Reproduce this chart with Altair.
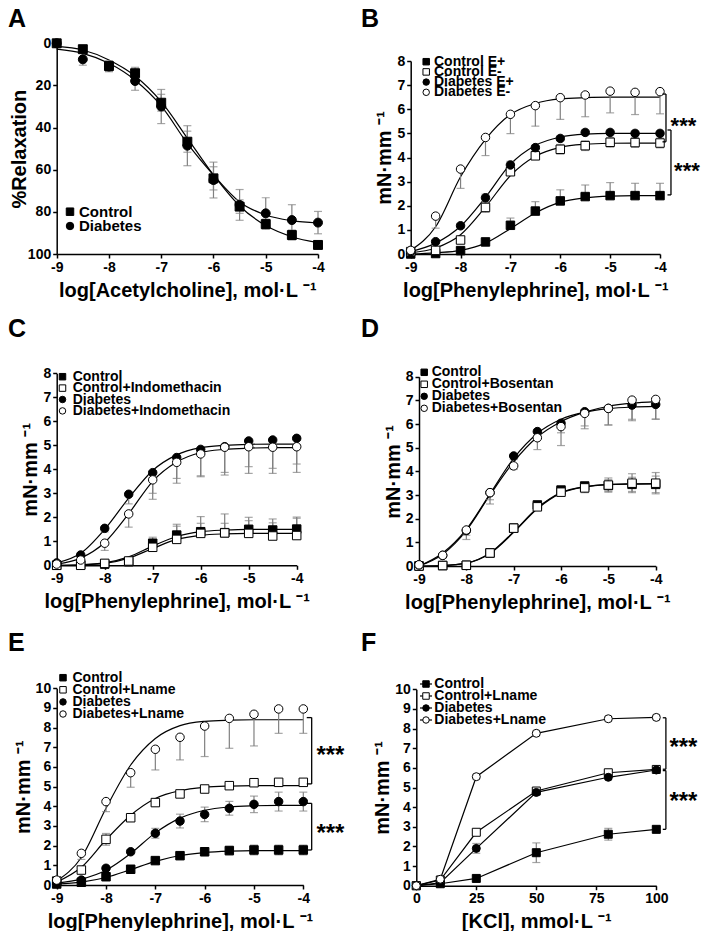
import altair as alt
import pandas as pd

FONT = "Liberation Sans"
W, H = 693, 923
ERR = "#808080"

LOGX = [-9, -8.5, -8, -7.5, -7, -6.5, -6, -5.5, -5, -4.5, -4]
KCL = [0, 10, 25, 50, 80, 100]

# ---------------- Panel A ----------------
A_names = ["Control", "Diabetes"]
A_ctrl = [0, 2.8, 10.8, 14.2, 28.2, 46.7, 64.1, 77.5, 85.8, 91.0, 95.7]
A_ctrl_err = [0, 0.6, 2.5, 2.8, 4.0, 5.0, 5.5, 3.2, 2.4, 2.4, 1.8]
A_diab = [0, 7.6, 11.0, 17.9, 30.0, 48.6, 64.9, 76.7, 80.7, 83.9, 85.1]
A_diab_err = [0, 2.8, 2.5, 4.4, 8.1, 9.5, 8.5, 7.3, 7.4, 7.3, 5.3]
A_ctrl_fit = [1.5, 3.2, 7.9, 15.5, 27.7, 45.0, 62.5, 77.2, 86.5, 91.8, 94.6]
A_diab_fit = [2.8, 4.8, 9.5, 17.5, 29.7, 47.5, 62.5, 75.3, 81.5, 84.2, 85.3]

# ---------------- Panel B ----------------
B_names = ["Control E+", "Control E-", "Diabetes E+", "Diabetes E-"]
B_ctrlp = [0.0, 0.02, 0.14, 0.5, 1.19, 1.78, 2.2, 2.38, 2.42, 2.42, 2.42]
B_ctrlp_err = [0, 0, 0.05, 0.1, 0.3, 0.39, 0.46, 0.48, 0.54, 0.51, 0.51]
B_ctrlm = [0.1, 0.15, 0.58, 1.93, 3.41, 4.07, 4.34, 4.49, 4.63, 4.62, 4.6]
B_ctrlm_err = [0, 0.05, 0.1, 0.2, 0.15, 0.15, 0.2, 0.2, 0.2, 0.2, 0.2]
B_diabp = [0.1, 0.51, 1.17, 2.33, 3.69, 4.41, 4.79, 5.04, 5.04, 5.0, 5.0]
B_diabp_err = [0, 0.05, 0.1, 0.15, 0.15, 0.1, 0.1, 0.1, 0.1, 0.1, 0.1]
B_diabm = [0.15, 1.57, 3.52, 4.83, 5.79, 6.15, 6.48, 6.59, 6.75, 6.7, 6.73]
B_diabm_err = [0, 0.5, 0.8, 0.75, 0.8, 0.85, 0.9, 0.9, 0.9, 0.92, 0.92]
B_fit_ctrlp = [0.0, 0.05, 0.15, 0.45, 1.05, 1.7, 2.15, 2.33, 2.4, 2.42, 2.42]
B_fit_ctrlm = [0.05, 0.25, 0.8, 1.95, 3.25, 4.05, 4.42, 4.55, 4.59, 4.6, 4.6]
B_fit_diabp = [0.1, 0.45, 1.15, 2.35, 3.72, 4.5, 4.85, 4.97, 5.0, 5.0, 5.0]
B_fit_diabm = [0.15, 1.13, 3.2, 4.75, 5.78, 6.24, 6.43, 6.48, 6.5, 6.5, 6.5]
B_brackets = [[-3.95, -3.88, 6.63, 4.65], [-3.85, -3.78, 5.14, 2.45]]
B_stars = [[-3.53, 5.48], [-3.46, 3.62]]

# ---------------- Panel C ----------------
C_names = ["Control", "Control+Indomethacin", "Diabetes", "Diabetes+Indomethacin"]
C_ctrl = [0.0, 0.02, 0.05, 0.15, 0.92, 1.26, 1.4, 1.36, 1.5, 1.47, 1.51]
C_ctrl_err = [0, 0, 0, 0.05, 0.25, 0.45, 0.63, 0.78, 0.5, 0.46, 0.5]
C_ctrli = [0.0, 0.0, 0.08, 0.18, 0.75, 1.08, 1.33, 1.35, 1.33, 1.22, 1.24]
C_ctrli_err = [0, 0, 0, 0.05, 0.3, 0.55, 0.42, 0.4, 0.53, 0.55, 0.72]
C_diab = [0.1, 0.43, 1.54, 2.96, 3.86, 4.49, 4.83, 4.94, 5.18, 5.22, 5.29]
C_diab_err = [0, 0.1, 0.15, 0.4, 0.86, 1.07, 1.1, 1.18, 1.35, 1.39, 1.42]
C_diabi = [0.05, 0.22, 0.92, 2.14, 3.56, 4.29, 4.64, 4.92, 4.94, 4.92, 4.94]
C_diabi_err = [0, 0.1, 0.3, 0.55, 0.81, 0.67, 0.95, 1.05, 0.83, 0.88, 0.72]
C_fit_ctrl = [0, 0.02, 0.1, 0.35, 0.8, 1.2, 1.4, 1.47, 1.5, 1.5, 1.5]
C_fit_ctrli = [0, 0.02, 0.08, 0.3, 0.7, 1.08, 1.25, 1.31, 1.33, 1.33, 1.33]
C_fit_diab = [0.1, 0.5, 1.5, 2.8, 3.95, 4.6, 4.9, 5.0, 5.04, 5.05, 5.05]
C_fit_diabi = [0.05, 0.3, 0.95, 2.15, 3.5, 4.3, 4.7, 4.83, 4.88, 4.9, 4.9]

# ---------------- Panel D ----------------
D_names = ["Control", "Control+Bosentan", "Diabetes", "Diabetes+Bosentan"]
D_ctrl = [0, 0.02, 0.03, 0.55, 1.6, 2.58, 3.21, 3.38, 3.4, 3.45, 3.45]
D_ctrl_err = [0, 0, 0, 0.05, 0.1, 0.1, 0.1, 0.15, 0.25, 0.3, 0.35]
D_ctrlb = [0, 0.02, 0.03, 0.55, 1.6, 2.5, 3.12, 3.3, 3.42, 3.5, 3.5]
D_ctrlb_err = [0, 0, 0, 0.05, 0.1, 0.1, 0.1, 0.2, 0.3, 0.4, 0.45]
D_diab = [0.05, 0.45, 1.5, 3.1, 4.65, 5.68, 6.03, 6.52, 6.66, 6.8, 6.83]
D_diab_err = [0, 0.1, 0.2, 0.3, 0.15, 0.2, 0.4, 0.6, 0.7, 0.6, 0.62]
D_diabb = [0.05, 0.45, 1.52, 3.1, 4.23, 5.42, 5.89, 6.45, 6.66, 7.01, 7.04]
D_diabb_err = [0, 0.1, 0.4, 0.48, 0.15, 0.5, 0.8, 0.65, 0.7, 0.87, 0.84]
D_fit_ctrl = [0, 0.02, 0.12, 0.55, 1.45, 2.45, 3.1, 3.35, 3.44, 3.46, 3.47]
D_fit_ctrlb = [0, 0.02, 0.12, 0.53, 1.42, 2.42, 3.08, 3.34, 3.44, 3.47, 3.48]
D_fit_diab = [0.0, 0.55, 1.55, 3.05, 4.55, 5.6, 6.2, 6.5, 6.65, 6.72, 6.75]
D_fit_diabb = [0.0, 0.5, 1.5, 3.0, 4.4, 5.45, 6.1, 6.5, 6.75, 6.88, 6.95]

# ---------------- Panel E ----------------
E_names = ["Control", "Control+Lname", "Diabetes", "Diabetes+Lname"]
E_ctrl = [0.05, 0.14, 0.42, 0.8, 1.24, 1.49, 1.69, 1.75, 1.78, 1.78, 1.78]
E_ctrl_err = [0, 0.05, 0.08, 0.1, 0.12, 0.15, 0.2, 0.22, 0.25, 0.25, 0.25]
E_ctrll = [0.2, 0.76, 2.32, 3.42, 4.19, 4.63, 4.88, 5.05, 5.2, 5.22, 5.22]
E_ctrll_err = [0.05, 0.1, 0.3, 0.15, 0.15, 0.12, 0.12, 0.1, 0.1, 0.1, 0.1]
E_diab = [0.1, 0.25, 0.85, 1.69, 2.63, 3.25, 3.59, 3.9, 4.1, 4.24, 4.24]
E_diab_err = [0, 0.05, 0.1, 0.1, 0.25, 0.35, 0.37, 0.35, 0.42, 0.48, 0.48]
E_diabl = [0.25, 1.61, 4.24, 5.71, 6.9, 7.51, 8.08, 8.47, 8.68, 8.95, 8.95]
E_diabl_err = [0, 0.31, 0.51, 0.74, 1.05, 1.15, 1.55, 1.52, 1.61, 1.24, 1.24]
E_fit_ctrl = [0.05, 0.15, 0.38, 0.78, 1.2, 1.5, 1.65, 1.72, 1.75, 1.75, 1.75]
E_fit_ctrll = [0.15, 0.9, 2.3, 3.55, 4.4, 4.8, 4.97, 5.03, 5.05, 5.05, 5.05]
E_fit_diab = [0.1, 0.3, 0.75, 1.6, 2.65, 3.4, 3.8, 3.97, 4.03, 4.05, 4.05]
E_fit_diabl = [0.2, 1.4, 3.9, 6.1, 7.45, 8.1, 8.32, 8.38, 8.4, 8.4, 8.4]
E_brackets = [[-3.93, -3.83, 8.51, 5.14], [-3.93, -3.83, 4.15, 1.78]]
E_stars = [[-3.45, 6.78], [-3.45, 2.8]]

# ---------------- Panel F ----------------
F_names = ["Control", "Control+Lname", "Diabetes", "Diabetes+Lname"]
F_ctrl = [0, 0.1, 0.37, 1.68, 2.62, 2.87]
F_ctrl_err = [0, 0.05, 0.15, 0.5, 0.3, 0.15]
F_ctrll = [0, 0.29, 2.72, 4.82, 5.75, 5.92]
F_ctrll_err = [0, 0.05, 0.1, 0.1, 0.1, 0.1]
F_diab = [0, 0.15, 1.9, 4.75, 5.52, 5.89]
F_diab_err = [0, 0.05, 0.25, 0.1, 0.1, 0.1]
F_diabl = [0, 0.33, 5.55, 7.76, 8.5, 8.57]
F_diabl_err = [0, 0, 0.1, 0.1, 0.1, 0.1]
F_brackets = [[102.7, 104.0, 8.55, 5.93], [102.7, 104.0, 5.86, 2.87]]
F_stars = [[111.3, 7.21], [111.3, 4.48]]

SH4 = ["square", "square", "circle", "circle"]
FL4 = ["black", "white", "black", "white"]
LOG_TITLE_PE = "log[Phenylephrine], mol·L ⁻¹"
MNMM = "mN·mm ⁻¹"


def long_df(xs, names, lists):
    rows = []
    for n, ys in zip(names, lists):
        for x, y in zip(xs, ys):
            rows.append({"x": x, "y": y, "s": n})
    return pd.DataFrame(rows)


def err_dfs(xs, names, vals, errs, dirs):
    bars, caps = [], []
    for n, ys, es, d in zip(names, vals, errs, dirs):
        for x, y, e in zip(xs, ys, es):
            if e <= 0:
                continue
            lo = y - e if d in ("both", "down") else y
            hi = y + e if d in ("both", "up") else y
            bars.append({"x": x, "lo": lo, "hi": hi})
            if d in ("both", "down"):
                caps.append({"x": x, "y": lo})
            if d in ("both", "up"):
                caps.append({"x": x, "y": hi})
    return pd.DataFrame(bars), pd.DataFrame(caps)


def axis_style():
    return dict(grid=False, domainColor="black", domainWidth=1.5, tickColor="black",
                tickWidth=1.5, tickSize=4, labelFont=FONT, labelFontSize=14,
                labelFontWeight="bold", labelColor="black", labelPadding=2,
                titleFont=FONT, titleFontSize=20, titleFontWeight="bold",
                titleColor="black", labelExpr="'' + datum.value",
                labelOverlap=False, labelFlush=False)


def legend_layers(names, shapes, fills, leg):
    out = []
    for i, (n, sh, fl) in enumerate(zip(names, shapes, fills)):
        yy = leg["y0"] + i * leg["dy"]
        one = pd.DataFrame({"label": [n]})
        if leg.get("stub"):
            out.append(alt.Chart(one).mark_rule(color="black", strokeWidth=1.2).encode(
                x=alt.value(leg["sx"] - leg["stub"]), x2=alt.value(leg["sx"] + leg["stub"]),
                y=alt.value(yy)))
        out.append(alt.Chart(one).mark_point(shape=sh, filled=True, fill=fl, stroke="black",
                                             strokeWidth=1, opacity=1, size=leg["ss"]).encode(
            x=alt.value(leg["sx"]), y=alt.value(yy)))
        out.append(alt.Chart(one).mark_text(font=FONT, fontSize=leg["fs"], fontWeight="bold",
                                            color="black", align="left",
                                            baseline="middle").encode(
            text="label:N", x=alt.value(leg["tx"]), y=alt.value(yy)))
    return out


def panel(letter, lxy, xs, names, shapes, fills, vals, errs, dirs, fit_x, fits,
          xdom, xrng, xvals, xtitle, xaxis_y, ydom, yrng, yvals, ytitle, yaxis_x,
          leg, brackets=None, stars=None, star_fs=24, ytpad=2, xtpad=6,
          psize=72, interp="monotone"):
    xscale = alt.Scale(domain=xdom, range=xrng, nice=False, zero=False)
    yscale = alt.Scale(domain=ydom, range=yrng, nice=False, zero=False)
    xaxis = alt.Axis(orient="bottom", offset=xaxis_y - H, values=xvals, title=xtitle,
                     titlePadding=xtpad, **axis_style())
    yaxis = alt.Axis(orient="left", offset=-yaxis_x, values=yvals, title=ytitle,
                     titlePadding=ytpad, **axis_style())

    def X(f):
        return alt.X(f, type="quantitative", scale=xscale, axis=xaxis)

    def Y(f):
        return alt.Y(f, type="quantitative", scale=yscale, axis=yaxis)

    layers = []
    fit_df = long_df(fit_x, names, fits)
    layers.append(alt.Chart(fit_df).mark_line(color="black", strokeWidth=1.2,
                                              interpolate=interp).encode(
        x=X("x"), y=Y("y"), detail="s:N"))
    bars, caps = err_dfs(xs, names, vals, errs, dirs)
    layers.append(alt.Chart(bars).mark_rule(color=ERR, strokeWidth=1.2).encode(
        x=X("x"), y=Y("lo"), y2=alt.Y2("hi")))
    layers.append(alt.Chart(caps).mark_tick(color=ERR, orient="horizontal", size=8,
                                            thickness=1.2).encode(x=X("x"), y=Y("y")))
    pts = long_df(xs, names, vals)
    layers.append(alt.Chart(pts).mark_point(filled=True, opacity=1, stroke="black",
                                            strokeWidth=1, size=psize).encode(
        x=X("x"), y=Y("y"),
        shape=alt.Shape("s:N", scale=alt.Scale(domain=names, range=shapes), legend=None),
        fill=alt.Fill("s:N", scale=alt.Scale(domain=names, range=fills), legend=None)))
    if brackets:
        vrows, hrows = [], []
        for xl, xr, yt, yb in brackets:
            vrows.append({"bx": xr, "y1": yt, "y2": yb})
            hrows.append({"x1": xl, "x2": xr, "y": yt})
            hrows.append({"x1": xl, "x2": xr, "y": yb})
        layers.append(alt.Chart(pd.DataFrame(vrows)).mark_rule(color="black", strokeWidth=1.3).encode(
            x=X("bx"), y=Y("y1"), y2=alt.Y2("y2")))
        layers.append(alt.Chart(pd.DataFrame(hrows)).mark_rule(color="black", strokeWidth=1.3).encode(
            x=X("x1"), x2=alt.X2("x2"), y=Y("y")))
    if stars:
        sdf = pd.DataFrame([{"sx": a, "sy": b} for a, b in stars])
        layers.append(alt.Chart(sdf).mark_text(text="***", font=FONT, fontSize=star_fs,
                                               fontWeight="bold", color="black",
                                               baseline="middle", align="center", dy=4).encode(
            x=X("sx"), y=Y("sy")))
    layers.extend(legend_layers(names, shapes, fills, leg))
    ldf = pd.DataFrame({"t": [letter]})
    layers.append(alt.Chart(ldf).mark_text(font=FONT, fontSize=25, fontWeight="bold",
                                           color="black", align="left",
                                           baseline="alphabetic").encode(
        text="t:N", x=alt.value(lxy[0]), y=alt.value(lxy[1])))
    return alt.layer(*layers)


pA = panel("A", (0, 19), LOGX, A_names, ["square", "circle"], ["black", "black"],
           [A_ctrl, A_diab], [A_ctrl_err, A_diab_err], ["both", "both"],
           LOGX, [A_ctrl_fit, A_diab_fit],
           [-9, -4], [48.7, 310], LOGX[::2], "log[Acetylcholine], mol·L ⁻¹", 246,
           [0, 100], [35.3, 246], [0, 20, 40, 60, 80, 100], "%Relaxation", 48.7,
           dict(sx=62, tx=71, y0=203.7, dy=14.3, fs=15, ss=56), ytpad=-2, psize=80)

pB = panel("B", (353, 19), LOGX, B_names, SH4, FL4,
           [B_ctrlp, B_ctrlm, B_diabp, B_diabm],
           [B_ctrlp_err, B_ctrlm_err, B_diabp_err, B_diabm_err],
           ["up", "both", "both", "down"],
           LOGX, [B_fit_ctrlp, B_fit_ctrlm, B_fit_diabp, B_fit_diabm],
           [-9, -4], [402.7, 652], LOGX[::2], LOG_TITLE_PE, 246,
           [0, 8], [246, 53], list(range(0, 9)), MNMM, 402.7,
           dict(sx=418.2, tx=426, y0=53.7, dy=10.2, fs=14, ss=42),
           brackets=B_brackets, stars=B_stars, star_fs=22)

pC = panel("C", (0, 329), LOGX, C_names, SH4, FL4,
           [C_ctrl, C_ctrli, C_diab, C_diabi],
           [C_ctrl_err, C_ctrli_err, C_diab_err, C_diabi_err],
           ["up", "up", "down", "down"],
           LOGX, [C_fit_ctrl, C_fit_ctrli, C_fit_diab, C_fit_diabi],
           [-9, -4], [48.7, 288.7], LOGX[::2], LOG_TITLE_PE, 557.3,
           [0, 8], [557.3, 365.3], list(range(0, 9)), MNMM, 48.7,
           dict(sx=54.5, tx=64.7, y0=368.7, dy=11.4, fs=14, ss=42))

pD = panel("D", (353, 329), LOGX, D_names, SH4, FL4,
           [D_ctrl, D_ctrlb, D_diab, D_diabb],
           [D_ctrl_err, D_ctrlb_err, D_diab_err, D_diabb_err],
           ["both", "both", "down", "down"],
           LOGX, [D_fit_ctrl, D_fit_ctrlb, D_fit_diab, D_fit_diabb],
           [-9, -4], [411, 647.7], LOGX[::2], LOG_TITLE_PE, 558,
           [0, 8], [558, 368.7], list(range(0, 9)), MNMM, 411,
           dict(sx=416.2, tx=423.7, y0=364.3, dy=12, fs=14, ss=42))

pE = panel("E", (0, 643), LOGX, E_names, SH4, FL4,
           [E_ctrl, E_ctrll, E_diab, E_diabl],
           [E_ctrl_err, E_ctrll_err, E_diab_err, E_diabl_err],
           ["both", "both", "both", "down"],
           LOGX, [E_fit_ctrl, E_fit_ctrll, E_fit_diab, E_fit_diabl],
           [-9, -4], [48.7, 295.3], LOGX[::2], LOG_TITLE_PE, 877,
           [0, 10], [877, 680.3], list(range(0, 11)), MNMM, 48.7,
           dict(sx=55, tx=64.5, y0=669.7, dy=12.1, fs=14, ss=42),
           brackets=E_brackets, stars=E_stars)

pF = panel("F", (353, 643), KCL, F_names, SH4, FL4,
           [F_ctrl, F_ctrll, F_diab, F_diabl],
           [F_ctrl_err, F_ctrll_err, F_diab_err, F_diabl_err],
           ["both", "both", "both", "both"],
           KCL, [F_ctrl, F_ctrll, F_diab, F_diabl],
           [0, 100], [408.3, 648.3], [0, 25, 50, 75, 100], "[KCl], mmol·L ⁻¹", 877.7,
           [0, 10], [877.7, 681.3], list(range(0, 11)), MNMM, 408.3,
           dict(sx=418, tx=426.3, y0=676, dy=12, fs=14, ss=42, stub=6),
           brackets=F_brackets, stars=F_stars, interp="linear", psize=64)

chart = alt.layer(pA, pB, pC, pD, pE, pF).resolve_scale(
    x="independent", y="independent", shape="independent", fill="independent"
).resolve_axis(x="independent", y="independent").properties(
    width=W, height=H, padding=0, background="white",
    autosize=alt.AutoSizeParams(type="none")
).configure_view(stroke=None)

chart.save("out.html", embed_options={"renderer": "svg", "actions": False})
